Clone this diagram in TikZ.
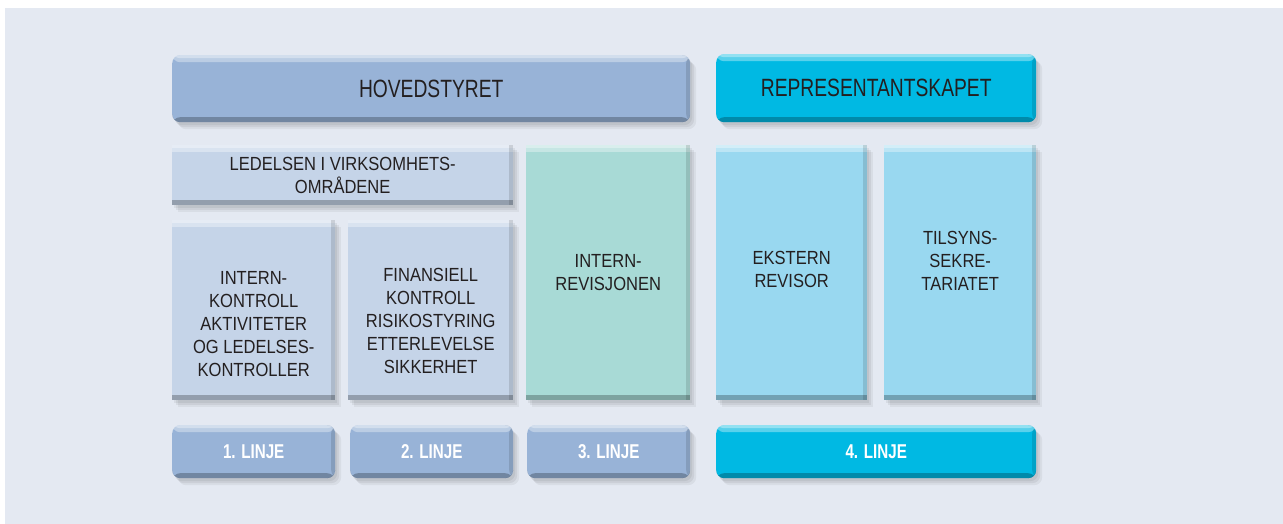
\documentclass[tikz,border=0pt]{standalone}
\usepackage{fontspec}
\setmainfont{Liberation Sans}[FakeStretch=0.87]
\newfontfamily\headfont{Liberation Sans}[FakeStretch=0.77]
\newfontfamily\linjefont{Liberation Sans}[FakeStretch=0.76]
\usepackage{tikz}
\usetikzlibrary{positioning, shadows}

\definecolor{bgc}{HTML}{E4E9F2}
\definecolor{hoved}{HTML}{98B3D7}
\definecolor{ledel}{HTML}{C5D4E8}
\definecolor{intrev}{HTML}{A8DAD6}
\definecolor{ekst}{HTML}{99D8F0}
\definecolor{repr}{HTML}{00B9E3}
\definecolor{txt}{HTML}{231F20}

\begin{document}
\begin{tikzpicture}[x=1pt, y=-1pt,
  box/.style={anchor=north west, inner sep=0pt,
    drop shadow={shadow xshift=2pt, shadow yshift=-3pt, opacity=0.06, fill=black},
    drop shadow={shadow xshift=4pt, shadow yshift=-5pt, opacity=0.06, fill=black},
    drop shadow={shadow xshift=6pt, shadow yshift=-7pt, opacity=0.05, fill=black},
    path picture={
      \fill[white, opacity=0.35] (path picture bounding box.north west) rectangle ([yshift=-7pt]path picture bounding box.north east);
      \fill[white, opacity=0.35] (path picture bounding box.north west) rectangle ([yshift=-3pt]path picture bounding box.north east);
      \fill[black, opacity=0.12] (path picture bounding box.north east) rectangle ([xshift=-4pt]path picture bounding box.south east);
      \fill[black, opacity=0.25] (path picture bounding box.south west) rectangle ([yshift=5pt]path picture bounding box.south east);
    }},
  head/.style={box, rounded corners=8pt, text=txt, font=\headfont\fontsize{25}{28}\selectfont},
  linje/.style={box, rounded corners=8pt, text=white, font=\linjefont\fontsize{20}{23}\selectfont\bfseries,
    minimum width=163pt, minimum height=53pt},
  lbl/.style={align=center, inner sep=0pt, text=txt, font=\fontsize{19}{23}\selectfont}]
% background
\fill[white] (0,0) rectangle (1283,524);
\fill[bgc] (5,8) rectangle (1283,524);
\useasboundingbox (0,0) rectangle (1283,524);
% top row
\node[head, fill=hoved, minimum width=518pt, minimum height=67pt] (hovedstyret) at (172,55) {HOVEDSTYRET};
\node[head, fill=repr, minimum width=320pt, minimum height=68pt] (repr) at (716,54) {REPRESENTANTSKAPET};
% middle boxes
\node[box, fill=ledel, minimum width=341pt, minimum height=60pt] (ledelsen) at (172,145) {};
\node[box, fill=ledel, minimum width=163pt, minimum height=180pt] (intkontroll) at (172,220) {};
\node[box, fill=ledel, minimum width=165pt, minimum height=180pt] (finansiell) at (348,220) {};
\node[box, fill=intrev, minimum width=164pt, minimum height=255pt] (intrevisjon) at (526,145) {};
\node[box, fill=ekst, minimum width=151pt, minimum height=255pt] (ekstern) at (716,145) {};
\node[box, fill=ekst, minimum width=152pt, minimum height=255pt] (tilsyn) at (884,145) {};
% texts
\node[lbl] (ledelsen-t) at (ledelsen.center) {LEDELSEN I VIRKSOMHETS-\\OMRÅDENE};
\node[lbl] (intkontroll-t) at ([yshift=-14pt]intkontroll.center) {INTERN-\\KONTROLL\\AKTIVITETER\\OG LEDELSES-\\KONTROLLER};
\node[lbl] (finansiell-t) at ([yshift=-11pt]finansiell.center) {FINANSIELL\\KONTROLL\\RISIKOSTYRING\\ETTERLEVELSE\\SIKKERHET};
\node[lbl] (intrevisjon-t) at (intrevisjon.center) {INTERN-\\REVISJONEN};
\node[lbl] (ekstern-t) at ([yshift=3pt]ekstern.center) {EKSTERN\\REVISOR};
\node[lbl] (tilsyn-t) at ([yshift=12pt]tilsyn.center) {TILSYNS-\\SEKRE-\\TARIATET};
% lines
\node[linje, fill=hoved] (linje1) at (172,425) {1. LINJE};
\node[linje, fill=hoved] (linje2) at (350,425) {2. LINJE};
\node[linje, fill=hoved] (linje3) at (527,425) {3. LINJE};
\node[linje, fill=repr, minimum width=320pt] (linje4) at (716,425) {4. LINJE};
\end{tikzpicture}
\end{document}
